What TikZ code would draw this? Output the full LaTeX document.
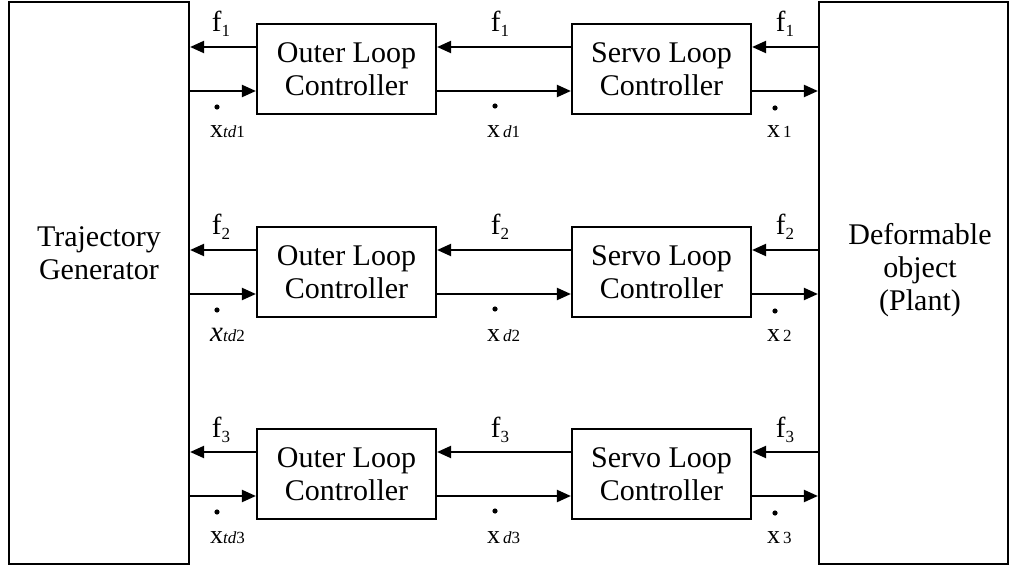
\documentclass[tikz,border=0pt]{standalone}
\usepackage{fontspec}
\setmainfont{Liberation Serif}
\usetikzlibrary{arrows.meta}

% force symbol: f with a lowered index
\newcommand\forcesym[1]{{\fontsize{29}{29}\selectfont f}\raisebox{-5pt}{\fontsize{17}{17}\selectfont #1}}
% velocity symbol: x followed by its index (italic letters, upright digit)
\newcommand\velsym[4][\upshape]{{\fontsize{#2}{#2}\selectfont #1x}{\fontsize{17}{17}\selectfont\itshape #3\upshape #4}}

\begin{document}
\begin{tikzpicture}[x=1pt,y=-1pt,
  blk/.style={draw, line width=2.2pt, inner sep=0pt, align=center,
    font=\fontsize{30}{32.5}\selectfont},
  ctrl/.style={blk, minimum width=179pt, minimum height=90pt},
  big/.style={draw, line width=2.2pt, inner sep=0pt},
  bigtext/.style={align=center, inner sep=0pt, font=\fontsize{30}{33}\selectfont},
  sig/.style={line width=2.2pt, -{Triangle[length=14pt,width=12pt]}},
  lbl/.style={inner sep=0pt},
  dotmark/.style={fill=black}
]
\useasboundingbox (0,0) rectangle (1013,567);

% trajectory generator and plant
\node[big, minimum width=180pt, minimum height=562pt] (tg) at (99,283) {};
\node[bigtext] (tgtext) at (99,253) {Trajectory\\Generator};
\node[big, minimum width=189pt, minimum height=562pt] (plant) at (913.5,283) {};
\node[bigtext] (planttext) at (920,270) {Deformable\\object\\(Plant)};

\foreach \r/\dy/\xs/\xsz in {1/0/\upshape/26, 2/203/\itshape/29, 3/405/\upshape/26}{
  % controller blocks of one channel
  \node[ctrl] (ol\r) at (346.5,{69+\dy}) {Outer Loop\\Controller};
  \node[ctrl] (sv\r) at (661.5,{69+\dy}) {Servo Loop\\Controller};

  % attachment points on the blocks
  \coordinate (olf\r) at ([yshift=22pt]ol\r.west);
  \coordinate (olx\r) at ([yshift=-22pt]ol\r.west);
  \coordinate (olfe\r) at ([yshift=22pt]ol\r.east);
  \coordinate (olxe\r) at ([yshift=-22pt]ol\r.east);
  \coordinate (svf\r) at ([yshift=22pt]sv\r.west);
  \coordinate (svx\r) at ([yshift=-22pt]sv\r.west);
  \coordinate (svfe\r) at ([yshift=22pt]sv\r.east);
  \coordinate (svxe\r) at ([yshift=-22pt]sv\r.east);

  % force signals flow to the left
  \draw[sig] (olf\r) -- (tg.east |- olf\r);
  \draw[sig] (svf\r) -- (olfe\r);
  \draw[sig] (plant.west |- svfe\r) -- (svfe\r);
  % velocity commands flow to the right
  \draw[sig] (tg.east |- olx\r) -- (olx\r);
  \draw[sig] (olxe\r) -- (svx\r);
  \draw[sig] (svxe\r) -- (plant.west |- svxe\r);

  % force labels
  \node[lbl, anchor=base] (fa\r) at (221,{32+\dy}) {\forcesym{\r}};
  \node[lbl, anchor=base] (fb\r) at (500,{32+\dy}) {\forcesym{\r}};
  \node[lbl, anchor=base] (fc\r) at (785,{32+\dy}) {\forcesym{\r}};

  % velocity labels with their dots
  \node[lbl, anchor=base west] (xa\r) at (210,{138+\dy}) {\velsym[\xs]{\xsz}{td}{\r}};
  \fill[dotmark] (217,{107+\dy}) circle (2.6pt);
  \node[lbl, anchor=base west] (xb\r) at (487,{138+\dy}) {\velsym{26}{\,d}{\r}};
  \fill[dotmark] (495,{106+\dy}) circle (2.6pt);
  \node[lbl, anchor=base west] (xc\r) at (767,{138+\dy}) {\velsym{26}{\,}{\r}};
  \fill[dotmark] (775,{108+\dy}) circle (2.6pt);
}
\end{tikzpicture}
\end{document}
